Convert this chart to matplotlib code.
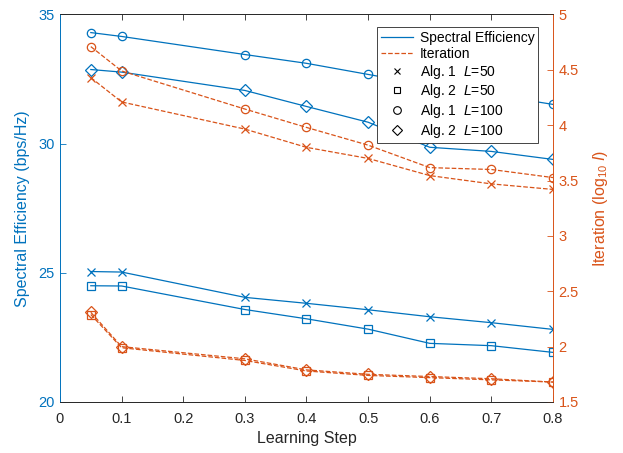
import numpy as np
import matplotlib
matplotlib.use('Agg')
import matplotlib.pyplot as plt
from matplotlib.lines import Line2D

plt.rcParams['font.family'] = ['Liberation Sans', 'DejaVu Sans']
plt.rcParams['mathtext.fontset'] = 'custom'
plt.rcParams['mathtext.rm'] = 'Liberation Sans'
plt.rcParams['mathtext.it'] = 'Liberation Sans:italic'

blue = '#0072BD'
orange = '#D95319'
dark = '#262626'

step = [0.05, 0.1, 0.3, 0.4, 0.5, 0.6, 0.7, 0.8]

# spectral efficiency (bps/Hz)
se_alg1_l50 = [25.05, 25.03, 24.05, 23.82, 23.57, 23.30, 23.07, 22.81]
se_alg2_l50 = [24.50, 24.49, 23.58, 23.22, 22.82, 22.27, 22.18, 21.92]
se_alg1_l100 = [34.30, 34.15, 33.45, 33.11, 32.68, 32.25, 31.90, 31.52]
se_alg2_l100 = [32.87, 32.77, 32.06, 31.44, 30.83, 29.86, 29.70, 29.39]

# iteration (log10 I)
it_alg1_l50 = [4.43, 4.21, 3.965, 3.80, 3.70, 3.545, 3.47, 3.42]
it_alg2_l50 = [2.29, 1.99, 1.875, 1.78, 1.74, 1.72, 1.70, 1.68]
it_alg1_l100 = [4.71, 4.49, 4.146, 3.98, 3.82, 3.617, 3.60, 3.527]
it_alg2_l100 = [2.31, 2.00, 1.89, 1.79, 1.75, 1.73, 1.71, 1.68]

fig = plt.figure(figsize=(6.23, 4.53), dpi=100)
ax = fig.add_axes([0.0963, 0.1126, 0.7913, 0.8554])
ax2 = ax.twinx()

mk = dict(markersize=6, markerfacecolor='none', linewidth=0.9, markeredgewidth=0.9)
ax.plot(step, se_alg1_l50, '-x', color=blue, **mk)
ax.plot(step, se_alg2_l50, '-s', color=blue, **mk)
ax.plot(step, se_alg1_l100, '-o', color=blue, **mk)
ax.plot(step, se_alg2_l100, '-D', color=blue, **mk)

ax2.plot(step, it_alg1_l50, '--x', color=orange, **mk)
ax2.plot(step, it_alg2_l50, '--s', color=orange, **mk)
ax2.plot(step, it_alg1_l100, '--o', color=orange, **mk)
ax2.plot(step, it_alg2_l100, '--D', color=orange, **mk)

ax.set_xlim(0, 0.8)
ax.set_ylim(20, 35)
ax2.set_ylim(1.5, 5)
ax.set_xticks(np.arange(0, 0.81, 0.1))
ax.set_xticklabels(['0', '0.1', '0.2', '0.3', '0.4', '0.5', '0.6', '0.7', '0.8'])
ax.set_yticks([20, 25, 30, 35])
ax2.set_yticks(np.arange(1.5, 5.01, 0.5))
ax2.set_yticklabels(['1.5', '2', '2.5', '3', '3.5', '4', '4.5', '5'])

ax.tick_params(axis='x', direction='in', top=True, colors=dark, labelsize=10.5, length=4, width=0.6, pad=7)
ax.tick_params(axis='y', direction='in', colors=blue, labelsize=10.5, length=4, width=0.6, pad=4)
ax2.tick_params(axis='y', direction='in', colors=orange, labelsize=10.5, length=4, width=0.6, pad=4)

for a in (ax, ax2):
    a.spines['top'].set_color(dark)
    a.spines['bottom'].set_color(dark)
    a.spines['left'].set_color(blue)
    a.spines['right'].set_color(orange)
    for s in a.spines.values():
        s.set_linewidth(0.6)

ax.set_xlabel('Learning Step', color=dark, fontsize=11.5, labelpad=4)
ax.set_ylabel('Spectral Efficiency (bps/Hz)', color=blue, fontsize=11.5, labelpad=6)
ax2.set_ylabel(r'Iteration (log$_{10}$ $\mathit{I}$)', color=orange, fontsize=11.5, labelpad=9)

handles = [
    Line2D([], [], color=blue, linewidth=0.9),
    Line2D([], [], color=orange, linewidth=0.9, linestyle='--'),
    Line2D([], [], color='k', marker='x', linestyle='none', markersize=5, markeredgewidth=0.8),
    Line2D([], [], color='k', marker='s', linestyle='none', markersize=5, markerfacecolor='none', markeredgewidth=0.8),
    Line2D([], [], color='k', marker='o', linestyle='none', markersize=5.5, markerfacecolor='none', markeredgewidth=0.8),
    Line2D([], [], color='k', marker='D', linestyle='none', markersize=5.5, markerfacecolor='none', markeredgewidth=0.8),
]
labels = ['Spectral Efficiency', 'Iteration', r'Alg. 1  $L$=50', r'Alg. 2  $L$=50',
          r'Alg. 1  $L$=100', r'Alg. 2  $L$=100']
leg = ax2.legend(handles, labels, loc='upper right', bbox_to_anchor=(0.970, 0.967),
                 fontsize=10, frameon=True, fancybox=False, framealpha=1,
                 edgecolor=dark, handlelength=2.3, handletextpad=0.45,
                 labelspacing=0.12, borderpad=0.28, borderaxespad=0)
leg.get_frame().set_linewidth(0.6)

fig.savefig('out.png', dpi=100)
